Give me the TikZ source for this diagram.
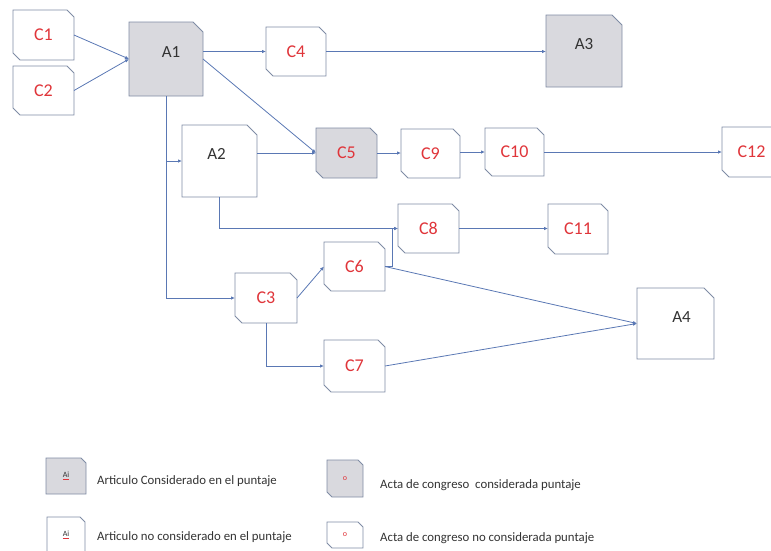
\documentclass[tikz,border=0pt]{standalone}
\usepackage{fontspec}
\setmainfont{Carlito}
\usetikzlibrary{arrows.meta,calc,backgrounds}

\definecolor{boxline}{HTML}{7F8CA5}
\definecolor{wire}{HTML}{5A78B4}
\definecolor{paper}{HTML}{D9D9DE}
\definecolor{cred}{HTML}{E0353A}
\definecolor{txt}{HTML}{333333}

\tikzset{
  base/.style={rectangle, outer sep=0pt, inner sep=0pt},
  % article: label sits high in the box
  artbox/.style={base, minimum width=75pt, minimum height=72pt,
    font=\fontsize{17}{17}\selectfont, text=txt,
    text height=6pt, text depth=9pt},
  % proceedings
  actbox/.style={base, minimum width=60pt, minimum height=49pt,
    font=\fontsize{18}{18}\selectfont, text=cred},
  outline/.style={draw=boxline, line width=0.9pt, line join=miter},
  link/.style={draw=wire, line width=0.8pt,
    -{Latex[length=4pt,width=3.5pt]}},
  legtext/.style={anchor=west, font=\fontsize{12.8}{13}\selectfont,
    text=txt, inner sep=0pt}
}

% outline of an article: top right corner cut by #3
\newcommand\artoutline[3]{%
  \path[outline, fill=#2] (#1.north west) -- ([xshift=-#3]#1.north east)
    -- ([yshift=-#3]#1.north east) -- (#1.south east) -- (#1.south west) -- cycle;}
% outline of a proceedings paper: top right and bottom left corners cut by #3
\newcommand\actoutline[3]{%
  \path[outline, fill=#2] (#1.north west) -- ([xshift=-#3]#1.north east)
    -- ([yshift=-#3]#1.north east) -- (#1.south east)
    -- ([xshift=#3]#1.south west) -- ([yshift=#3]#1.south west) -- cycle;}

\begin{document}
\begin{tikzpicture}[x=1pt,y=-1pt]
\useasboundingbox (0,0) rectangle (771,550);
\begin{scope}
\clip (0,0) rectangle (771,550);

% articles
\node[artbox,minimum width=74pt,minimum height=74pt] (A1) at (166,59) {\hspace*{10pt}A1};
\node[artbox] (A2) at (219.5,161) {A2\hspace*{6pt}};
\node[artbox,minimum width=76pt] (A3) at (584,51) {A3};
\node[artbox,minimum width=77pt,minimum height=71pt] (A4) at (675.5,323.5) {\hspace*{12pt}A4};

% proceedings
\node[actbox,minimum width=61pt,minimum height=50pt] (C1) at (43.5,35) {C1};
\node[actbox,minimum width=61pt] (C2) at (43.5,90.5) {C2};
\node[actbox,minimum width=62pt,minimum height=50pt] (C3) at (266,298) {C3};
\node[actbox] (C4) at (296,51.5) {C4};
\node[actbox,minimum width=61pt,minimum height=50pt] (C5) at (346.5,153) {C5};
\node[actbox,minimum width=61pt] (C6) at (354.5,266.5) {C6};
\node[actbox,minimum width=61pt,minimum height=52pt] (C7) at (354.5,366) {C7};
\node[actbox,minimum width=61pt] (C8) at (428.5,228.5) {C8};
\node[actbox,minimum width=59pt] (C9) at (430.5,153.5) {C9};
\node[actbox,minimum width=59pt,minimum height=48pt] (C10) at (514.5,152) {C10};
\node[actbox,minimum height=50pt] (C11) at (578,229) {C11};
\node[actbox,minimum width=59pt,minimum height=50pt] (C12) at (751.5,152) {C12};

% legend symbols and texts
\tikzset{legsym/.style={font=\fontsize{8}{8}\selectfont}}
\node[artbox,legsym,minimum width=40pt,minimum height=36pt,
  text height=5pt,text depth=2pt] (L1) at (66,476)
  {\textcolor{cred}{\underline{\textcolor{txt}{Ai}}}};
\node[artbox,legsym,minimum width=38pt,minimum height=36pt,
  text height=5pt,text depth=2pt] (L2) at (66,535)
  {\textcolor{cred}{\underline{\textcolor{txt}{Ai}}}};
\node[actbox,legsym,minimum width=36pt,minimum height=37pt] (L3) at (345,478.5) {o};
\node[actbox,legsym,minimum width=36pt,minimum height=26pt] (L4) at (345,535) {o};

\node[legtext] (T1) at (97,481) {Articulo Considerado en el puntaje};
\node[legtext] (T2) at (97,537) {Articulo no considerado en el puntaje};
\node[legtext] (T3) at (380,485) {Acta de congreso\ \ considerada puntaje};
\node[legtext] (T4) at (380,538) {Acta de congreso no considerada puntaje};

% box outlines behind the labels
\begin{scope}[on background layer]
  \foreach \n/\f in {A1/paper, A2/white, A3/paper, A4/white}
    {\artoutline{\n}{\f}{10pt}}
  \foreach \n/\f in {C1/white, C2/white, C3/white, C4/white, C5/paper,
      C6/white, C7/white, C8/white, C9/white, C10/white, C11/white, C12/white}
    {\actoutline{\n}{\f}{7pt}}
  \artoutline{L1}{paper}{5pt}
  \artoutline{L2}{white}{5pt}
  \actoutline{L3}{paper}{5pt}
  \actoutline{L4}{white}{5pt}
\end{scope}

% citations
\draw[link] (C1.east) -- (A1.west);
\draw[link] (C2.east) -- (A1.west);
\draw[link] (A1.east |- C4.west) -- (C4.west);
\draw[link] (C4.east) -- (A3.west |- C4.east);
\draw[link] (A1.east) -- (C5.west);
\draw[link] (A1.south) |- (C3.west);
\draw[link] (A1.south |- A2.west) -- (A2.west);
\draw[link] (A2.east |- C5.west) -- (C5.west);
\draw[link] (C5.east) -- (C9.west |- C5.east);
\draw[link] (C9.east |- C10.west) -- (C10.west);
\draw[link] (C10.east) -- (C12.west |- C10.east);
\draw[link] (A2.south) |- (C8.west);
\draw[link] (C8.east) -- (C11.west |- C8.east);
\draw[link] (C6.east) -| ($(C8.west)+(-6,0)$) -- (C8.west);
\draw[link] (C3.east) -- (C6.west);
\draw[link] (C3.south) |- (C7.west);
\draw[link] (C6.east) -- (A4.west);
\draw[link] (C7.east) -- (A4.west);
\end{scope}
\end{tikzpicture}
\end{document}
